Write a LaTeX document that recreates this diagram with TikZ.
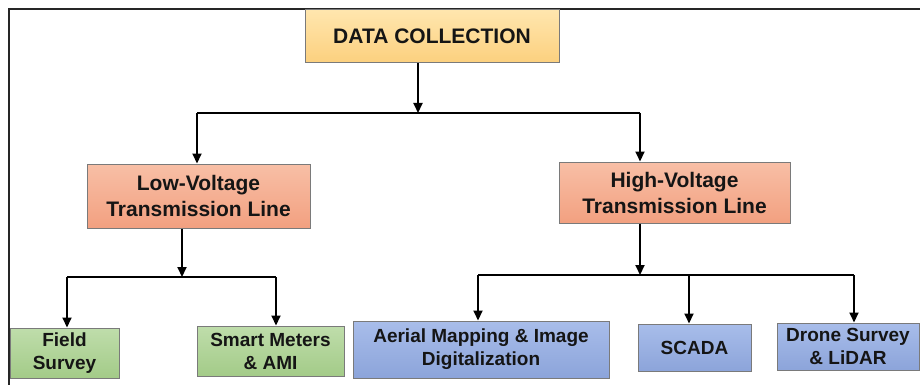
\documentclass[tikz,border=0pt]{standalone}
\usepackage{fontspec}
\setmainfont{Liberation Sans}
\usetikzlibrary{arrows.meta}
\definecolor{dcTop}{HTML}{FFE6AE}
\definecolor{dcBot}{HTML}{FCD07E}
\definecolor{vTop}{HTML}{F8BFA6}
\definecolor{vBot}{HTML}{F2A080}
\definecolor{gTop}{HTML}{BFDDAB}
\definecolor{gBot}{HTML}{A3CB88}
\definecolor{bTop}{HTML}{A8BDEA}
\definecolor{bBot}{HTML}{8CA4DA}
\definecolor{edge}{HTML}{7A7A7A}
\definecolor{ink}{HTML}{151515}
\tikzset{
  box/.style={draw=edge, line width=1pt, inner sep=0pt, align=center, text=ink, font=\bfseries},
  dcbox/.style={box, top color=dcTop, bottom color=dcBot, font=\bfseries\fontsize{21}{26}\selectfont},
  vbox/.style={box, top color=vTop, bottom color=vBot, font=\bfseries\fontsize{21}{26}\selectfont},
  gbox/.style={box, top color=gTop, bottom color=gBot, font=\bfseries\fontsize{19}{23}\selectfont},
  bbox/.style={box, top color=bTop, bottom color=bBot, font=\bfseries\fontsize{19}{23}\selectfont},
  conn/.style={line width=2pt, draw=black},
  arr/.style={conn, -{Triangle[length=10pt,width=9pt]}},
}
\begin{document}
\begin{tikzpicture}[x=1pt,y=-1pt]
\useasboundingbox (0,0) rectangle (920,385);
\fill[white] (0,0) rectangle (920,385);
% frame
\draw[line width=2.2pt, draw=black!85] (921,9) -- (9,9) -- (9,386);

% nodes
\node[dcbox, minimum width=254pt, minimum height=53pt] (dc) at (432,36.5) {DATA COLLECTION};
\node[vbox, minimum width=223pt, minimum height=64pt] (lv) at (198.5,196) {Low-Voltage\\Transmission Line};
\node[vbox, minimum width=231pt, minimum height=61pt] (hv) at (674.5,192.5) {High-Voltage\\Transmission Line};
\node[gbox, minimum width=109pt, minimum height=50pt] (fs) at (64.5,353) {Field\\Survey};
\node[gbox, minimum width=147pt, minimum height=50pt] (sm) at (270.5,351) {Smart Meters\\\& AMI};
\node[bbox, minimum width=256pt, minimum height=57pt] (am) at (481,349.5) {Aerial Mapping \& Image\\Digitalization};
\node[bbox, minimum width=113pt, minimum height=47pt] (sc) at (694.5,347.5) {SCADA};
\node[bbox, minimum width=142pt, minimum height=47pt] (ds) at (848,346.5) {Drone Survey\\\& LiDAR};

% junction coordinates
\coordinate (j1) at (418,113);
\coordinate (j1l) at (197,113);
\coordinate (j1r) at (640,113);
\coordinate (j2) at (182,277);
\coordinate (j2l) at (67,277);
\coordinate (j2r) at (276,277);
\coordinate (j3) at (640,275);
\coordinate (j3l) at (478,275);
\coordinate (j3m) at (689,275);
\coordinate (j3r) at (854,275);

% connectors
\draw[arr] (dc.south -| j1) -- (j1);
\draw[conn] (j1l) -- (j1r);
\draw[arr] (j1l) -- (lv.north -| j1l);
\draw[arr] (j1r) -- (hv.north -| j1r);

\draw[arr] (lv.south -| j2) -- (j2);
\draw[conn] (j2l) -- (j2r);
\draw[arr] (j2l) -- (fs.north -| j2l);
\draw[arr] (j2r) -- (sm.north -| j2r);

\draw[arr] (hv.south -| j3) -- (j3);
\draw[conn] (j3l) -- (j3r);
\draw[arr] (j3l) -- (am.north -| j3l);
\draw[arr] (j3m) -- (sc.north -| j3m);
\draw[arr] (j3r) -- (ds.north -| j3r);
\end{tikzpicture}
\end{document}
